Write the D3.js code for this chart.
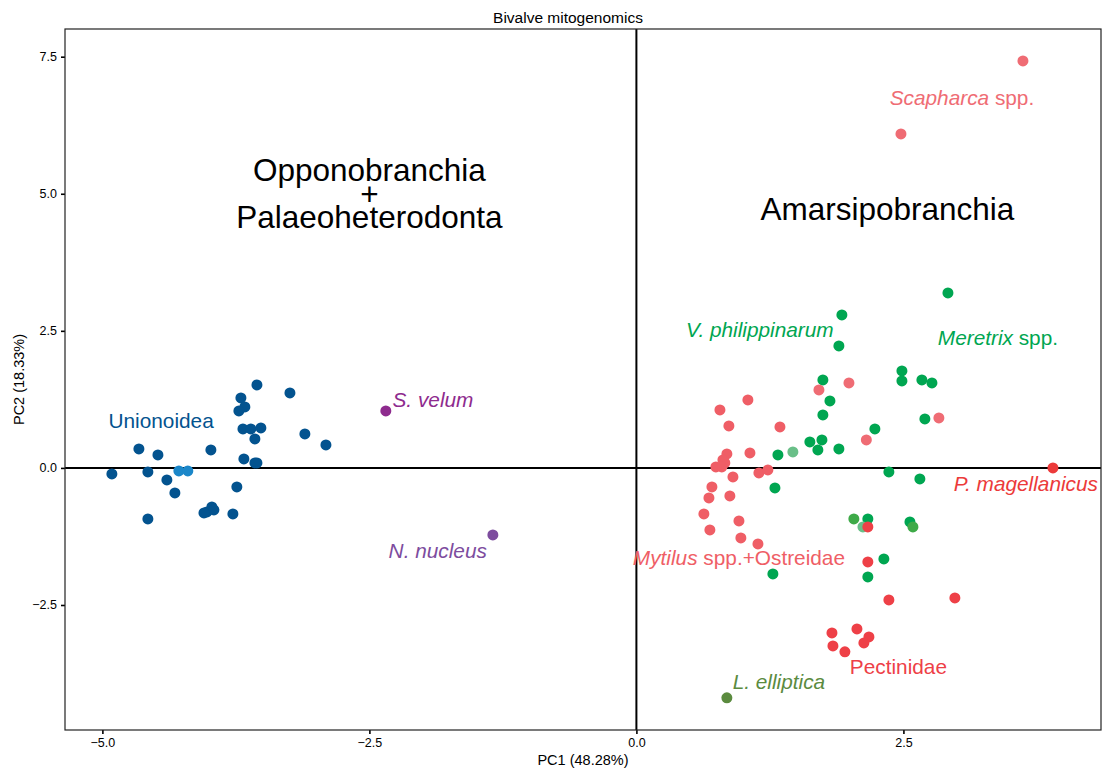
<!DOCTYPE html>
<html>
<head>
<meta charset="utf-8">
<script src="https://cdn.jsdelivr.net/npm/d3@7"></script>
<style>
  html, body { margin: 0; padding: 0; background: #fff; }
  svg { display: block; font-family: "Liberation Sans", Arial, Helvetica, sans-serif; }
</style>
</head>
<body>
<svg id="chart" width="1102" height="770"></svg>
<script>
// ---------------- DATA (PC1, PC2) ----------------
const unionoidea = [
  [-3.553,1.513],[-3.244,1.368],[-3.703,1.277],[-3.666,1.112],[-3.722,1.039],
  [-3.684,0.711],[-3.610,0.711],[-3.516,0.729],[-3.572,0.529],[-3.104,0.620],
  [-2.907,0.419],[-4.658,0.346],[-4.480,0.237],[-3.984,0.328],[-3.675,0.164],
  [-3.572,0.091],[-3.553,0.091],[-4.911,-0.109],[-4.574,-0.073],[-4.396,-0.219],
  [-4.321,-0.456],[-3.741,-0.346],[-3.975,-0.711],[-4.021,-0.802],[-3.956,-0.766],
  [-4.049,-0.821],[-3.778,-0.839],[-4.574,-0.930]
];
const unionoideaLight = [[-4.284,-0.055],[-4.200,-0.055]];
const solemyaVelum = [[-2.346,1.039]];
const nuculaNucleus = [[-1.344,-1.222]];
const veneridae = [
  [2.917,3.191],[1.924,2.790],[1.896,2.225],[1.746,1.605],[2.486,1.769],
  [2.486,1.586],[2.673,1.605],[2.767,1.550],[1.812,1.222],[1.746,0.966],
  [2.701,0.894],[2.233,0.711],[1.624,0.474],[1.737,0.511],[1.699,0.328],
  [1.896,0.346],[1.325,0.237],[2.364,-0.073],[2.654,-0.201],[1.297,-0.365],
  [2.167,-0.930],[2.561,-0.985],[2.317,-1.659],[2.167,-1.988],[1.278,-1.933]
];
const paleGreen = [[1.465,0.292],[2.121,-1.076]];
const lightGreen = [[2.036,-0.930],[2.589,-1.076]];
const lateralElliptica = [[0.847,-4.194]];
const arcidae = [[3.619,7.422],[2.477,6.091],[1.709,1.422],[1.990,1.550],[2.832,0.912],[2.153,0.511]];
const mytilusOstreidae = [
  [0.847,0.255],[1.063,0.274],[0.810,0.146],[0.828,0.091],[0.800,0.018],
  [0.744,0.018],[1.044,1.240],[0.782,1.058],[0.866,0.766],[1.344,0.748],
  [0.904,-0.164],[1.147,-0.091],[1.231,-0.036],[0.707,-0.346],[0.679,-0.547],
  [0.875,-0.511],[0.632,-0.839],[0.960,-0.966],[0.688,-1.131],[0.978,-1.276],
  [1.138,-1.386]
];
const pectinidae = [
  [2.167,-1.076],[2.167,-1.714],[2.364,-2.407],[2.982,-2.371],[1.831,-3.009],
  [2.065,-2.936],[2.177,-3.082],[1.840,-3.246],[1.952,-3.355],[2.130,-3.191]
];
const placopecten = [[3.900,0.0]];

const xTicks = [-5.0, -2.5, 0.0, 2.5];
const yTicks = [-2.5, 0.0, 2.5, 5.0, 7.5];

// group labels: [parts (text, italic)], PC1, PC2
const labels = [
  {key:"blue",   parts:[["Unionoidea",false]], x:-4.45, y:0.88},
  {key:"svel",   parts:[["S. velum",true]], x:-1.905, y:1.26},
  {key:"nnuc",   parts:[["N. nucleus",true]], x:-1.86, y:-1.50},
  {key:"green",  parts:[["V. philippinarum",true]], x:1.156, y:2.535},
  {key:"green",  parts:[["Meretrix",true],[" spp.",false]], x:3.385, y:2.39},
  {key:"arc",    parts:[["Scapharca",true],[" spp.",false]], x:3.048, y:6.765},
  {key:"pmag",   parts:[["P. magellanicus",true]], x:3.647, y:-0.274},
  {key:"myt",    parts:[["Mytilus",true],[" spp.+Ostreidae",false]], x:0.96, y:-1.623},
  {key:"pec",    parts:[["Pectinidae",false]], x:2.453, y:-3.61},
  {key:"olive",  parts:[["L. elliptica",true]], x:1.334, y:-3.884}
];
const cladeLabels = [
  {lines:["Opponobranchia","+","Palaeoheterodonta"], x:-2.5, y:5.0},
  {lines:["Amarsipobranchia"], x:2.35, y:4.72}
];

// ---------------- STYLE ----------------
const colors = {
  blue:"#03538F", blueLight:"#1B87C9", svel:"#8E2B8E", nnuc:"#7D4C9E",
  green:"#00A651", pale:"#69BF88", lgreen:"#3EAA48", olive:"#5B8B3F",
  arc:"#EF6C74", myt:"#EF5E66", pec:"#EE4047", pmag:"#EC3A3A"
};
const groups = [
  [unionoidea,"blue"],[unionoideaLight,"blueLight"],[solemyaVelum,"svel"],[nuculaNucleus,"nnuc"],
  [veneridae,"green"],[paleGreen,"pale"],[lightGreen,"lgreen"],[lateralElliptica,"olive"],
  [arcidae,"arc"],[mytilusOstreidae,"myt"],[pectinidae,"pec"],[placopecten,"pmag"]
];

const svg = d3.select("#chart");
const L = 65, R = 1101, T = 29, B = 730;
const x = d3.scaleLinear().domain([-5.35, 4.35]).range([L, R]);
const y = d3.scaleLinear().domain([-4.78, 8.005]).range([B, T]);

// title
svg.append("text").attr("x", 568).attr("y", 23).attr("text-anchor","middle")
  .attr("font-size", 15.5).attr("fill","#000").text("Bivalve mitogenomics");

// reference lines
svg.append("line").attr("x1", x(0)).attr("x2", x(0)).attr("y1", T).attr("y2", B)
  .attr("stroke","#000").attr("stroke-width",2);
svg.append("line").attr("x1", L).attr("x2", R).attr("y1", y(0)).attr("y2", y(0))
  .attr("stroke","#000").attr("stroke-width",2);

// axes
const fmt = d => d3.format(".1f")(d).replace("-", "\u2212");
const xAxis = svg.append("g").attr("transform", `translate(0,${B})`)
  .call(d3.axisBottom(x).tickValues(xTicks).tickFormat(fmt).tickSize(4).tickPadding(4));
const yAxis = svg.append("g").attr("transform", `translate(${L},0)`)
  .call(d3.axisLeft(y).tickValues(yTicks).tickFormat(fmt).tickSize(4).tickPadding(4));
[xAxis, yAxis].forEach(g => {
  g.select(".domain").remove();
  g.selectAll(".tick line").attr("stroke","#000").attr("stroke-width",1.6);
  g.selectAll(".tick text").attr("fill","#000").attr("font-size",12.5)
    .attr("font-family",'"Liberation Sans", Arial, sans-serif');
});

// panel border
svg.append("rect").attr("x", L).attr("y", T).attr("width", R - L).attr("height", B - T)
  .attr("fill","none").attr("stroke","#222").attr("stroke-width",1.2);

// axis titles
svg.append("text").attr("x", (L + R) / 2).attr("y", 765).attr("text-anchor","middle")
  .attr("font-size", 14.5).attr("fill","#000").text("PC1 (48.28%)");
svg.append("text").attr("transform", `translate(24,${(T + B) / 2}) rotate(-90)`)
  .attr("text-anchor","middle").attr("font-size", 14.5).attr("fill","#000").text("PC2 (18.33%)");

// points
const pts = svg.append("g");
groups.forEach(([arr, key]) => {
  pts.selectAll(null).data(arr).enter().append("circle")
    .attr("cx", d => x(d[0])).attr("cy", d => y(d[1])).attr("r", 5.5)
    .attr("fill", colors[key]);
});

// group labels
labels.forEach(l => {
  const t = svg.append("text").attr("x", x(l.x)).attr("y", y(l.y))
    .attr("text-anchor","middle").attr("dominant-baseline","central")
    .attr("font-size", 20.8).attr("fill", colors[l.key]);
  l.parts.forEach(([s, it]) => t.append("tspan").attr("font-style", it ? "italic" : "normal").text(s));
});

// clade labels
cladeLabels.forEach(c => {
  const lh = 23.5;
  const n = c.lines.length;
  const t = svg.append("text").attr("text-anchor","middle").attr("font-size", 31.5).attr("fill","#000");
  c.lines.forEach((s, i) => {
    t.append("tspan").attr("x", x(c.x))
      .attr("y", y(c.y) + (i - (n - 1) / 2) * lh + 11)
      .text(s);
  });
});
</script>
</body>
</html>
